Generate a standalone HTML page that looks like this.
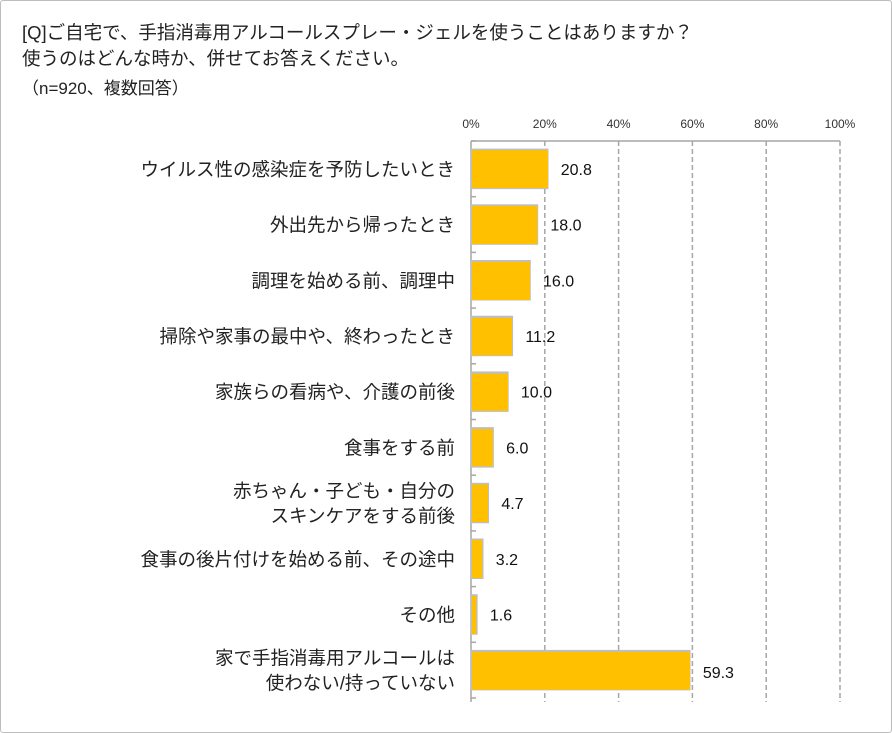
<!DOCTYPE html>
<html><head><meta charset="utf-8">
<style>
body{margin:0;background:#fff;}
#frame{position:absolute;left:0;top:0;width:890px;height:731px;border:1px solid #bdbdbd;border-radius:3px;}
.t{position:absolute;left:22px;font:18.5px "Liberation Sans","Noto Sans CJK JP",sans-serif;color:#222;white-space:nowrap}
svg text{font-family:"Liberation Sans","Noto Sans CJK JP",sans-serif;}
</style></head><body>
<div id="frame"></div>
<div class="t" style="top:19px">[Q]ご自宅で、手指消毒用アルコールスプレー・ジェルを使うことはありますか？</div>
<div class="t" style="top:45px">使うのはどんな時か、併せてお答えください。</div>
<div class="t" style="top:74px;font-size:17px">（n=920、複数回答）</div>
<svg id="chart" width="892" height="733" style="position:absolute;left:0;top:0"></svg>
<script>
const categories=[["ウイルス性の感染症を予防したいとき"],["外出先から帰ったとき"],["調理を始める前、調理中"],["掃除や家事の最中や、終わったとき"],["家族らの看病や、介護の前後"],["食事をする前"],["赤ちゃん・子ども・自分の","スキンケアをする前後"],["食事の後片付けを始める前、その途中"],["その他"],["家で手指消毒用アルコールは","使わない/持っていない"]];
const values=[20.8,18.0,16.0,11.2,10.0,6.0,4.7,3.2,1.6,59.3];
const ticks=[0,20,40,60,80,100];
const NS="http://www.w3.org/2000/svg";
const svg=document.getElementById('chart');
const x0=471,x1=840,y0=141,y1=698;
const xs=v=>x0+(x1-x0)*v/100;
const band=(y1-y0)/categories.length;
const yc=i=>y0+band*(i+0.5);
function mk(t,a){const e=document.createElementNS(NS,t);for(const k in a)e.setAttribute(k,a[k]);svg.appendChild(e);return e;}
ticks.forEach(t=>{
 const l=mk('line',{x1:xs(t),x2:xs(t),y1:y0,y2:y1+4,stroke:'#a6a6a6','stroke-width':1.5,'stroke-dasharray':t===0?'':'5,3'});
 
 
 const tx=mk('text',{x:xs(t),y:128,'text-anchor':'middle','font-size':12,fill:'#333'});
 tx.textContent=t+'%';
 
 
});
const topAxis=mk('line',{x1:x0,x2:x1,y1:y0,y2:y0,stroke:'#a6a6a6','stroke-width':1.5});


for(let i=0;i<=categories.length;i++){
 const tk=mk('line',{x1:x0,x2:x0+5,y1:y0+band*i,y2:y0+band*i,stroke:'#a6a6a6','stroke-width':1.5});
 
 
}
categories.forEach((c,i)=>{
 const h=39,cy=yc(i);
 const r=mk('rect',{x:x0,y:cy-h/2,width:xs(values[i])-x0,height:h,fill:'#ffc000',stroke:'#bfbfbf','stroke-width':1.5});
 
 
 const v=mk('text',{x:xs(values[i])+13,y:cy+6+(i===9?2:0),'font-size':16,fill:'#111'});
 v.textContent=values[i].toFixed(1);
 
 
 c.forEach((line,j)=>{
  const ty=cy+7+(j-(c.length-1)/2)*25;
  const t=mk('text',{x:455,y:ty,'text-anchor':'end','font-size':18.5,fill:'#222'});
  t.textContent=line;
  
  
 });
});
</script>
</body></html>
